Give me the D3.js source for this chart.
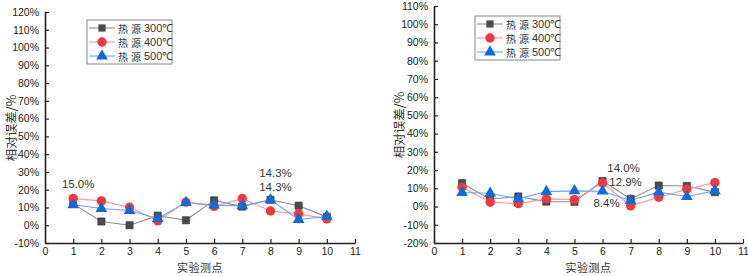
<!DOCTYPE html>
<html>
<head>
<meta charset="utf-8">
<script src="https://cdn.jsdelivr.net/npm/d3@7"></script>
<style>
  body { margin: 0; background: #fff; }
  svg { display: block; font-family: "Liberation Sans", Arial, sans-serif; }
</style>
</head>
<body>
<svg id="chart" width="748" height="276"></svg>
<script>
// measurement points
var points = [1, 2, 3, 4, 5, 6, 7, 8, 9, 10];
var seriesNames = ["热源300℃", "热源400℃", "热源500℃"];

// left panel, relative error %
var leftS300 = [12, 2.1, 0, 5.4, 2.8, 14, 10.5, 14.3, 11, 4.7];
var leftS400 = [15, 13.7, 10.1, 2.5, 13, 10.6, 15, 8, 6.4, 3.6];
var leftS500 = [11.5, 9.4, 8.3, 3.8, 12.8, 11.3, 10.9, 14.3, 3.2, 5];
var leftYTicks = [-10, 0, 10, 20, 30, 40, 50, 60, 70, 80, 90, 100, 110, 120];
var leftNotes = [
  { x: 1, y: 15, text: "15.0%", dx: 5, dy: -11 },
  { x: 8, y: 14.3, text: "14.3%", dx: 5, dy: -23 },
  { x: 8, y: 14.3, text: "14.3%", dx: 5, dy: -9 }
];

// right panel
var rightS300 = [12.8, 4, 5.5, 2.7, 2.6, 14.0, 4.2, 11.5, 11.3, 7.9];
var rightS400 = [10.6, 2.4, 1.6, 4.2, 3.8, 12.9, 0.4, 5.1, 9.5, 13.1];
var rightS500 = [7.7, 7.3, 4.2, 8.2, 8.6, 8.4, 3.3, 7.9, 5.5, 8.6];
var rightYTicks = [-20, -10, 0, 10, 20, 30, 40, 50, 60, 70, 80, 90, 100, 110];
var rightNotes = [
  { x: 6, y: 14.0, text: "14.0%", dx: 21, dy: -9 },
  { x: 6, y: 12.9, text: "12.9%", dx: 23, dy: 3 },
  { x: 6, y: 8.4, text: "8.4%", dx: 4, dy: 16 }
];

var xTicks = [0, 1, 2, 3, 4, 5, 6, 7, 8, 9, 10, 11];

var styles = [
  { line: "#8c8c8c", fill: "#4a4a4a", shape: d3.symbolSquare, size: 52 },
  { line: "#f59a9a", fill: "#f0393f", shape: d3.symbolCircle, size: 70 },
  { line: "#6ea3ea", fill: "#1469d8", shape: d3.symbolTriangle, size: 60 }
];

var svg = d3.select("#chart");

function drawPanel(cfg) {
  var g = svg.append("g");

  var x = d3.scaleLinear().domain([0, 11]).range([cfg.left, cfg.right]);
  var y = d3.scaleLinear().domain([cfg.yTicks[0], cfg.yTicks[cfg.yTicks.length - 1]])
      .range([cfg.bottom, cfg.top]);

  // x axis
  var xa = g.append("g")
      .attr("transform", "translate(0," + cfg.bottom + ")")
      .call(d3.axisBottom(x).tickValues(xTicks).tickSize(-4).tickPadding(5).tickSizeOuter(0));
  // y axis
  var ya = g.append("g")
      .attr("transform", "translate(" + cfg.left + ",0)")
      .call(d3.axisLeft(y).tickValues(cfg.yTicks).tickSize(-4).tickPadding(6).tickSizeOuter(0)
        .tickFormat(function(d) { return d + "%"; }));

  [xa, ya].forEach(function(a) {
    a.select(".domain").attr("stroke", "#222").attr("stroke-width", 1.6);
    a.selectAll(".tick line").attr("stroke", "#222").attr("stroke-width", 1.2);
    a.selectAll(".tick text").attr("fill", "#222").attr("font-size", "10.5px");
  });

  var line = d3.line()
      .x(function(d, i) { return x(points[i]); })
      .y(function(d) { return y(d); });

  cfg.series.forEach(function(vals, k) {
    g.append("path")
        .datum(vals)
        .attr("d", line)
        .attr("fill", "none")
        .attr("stroke", styles[k].line)
        .attr("stroke-width", 1.1);
  });

  cfg.series.forEach(function(vals, k) {
    g.selectAll(".m" + k)
      .data(vals)
      .enter()
      .append("path")
        .attr("class", "m" + k)
        .attr("transform", function(d, i) { return "translate(" + x(points[i]) + "," + y(d) + ")"; })
        .attr("d", d3.symbol().type(styles[k].shape).size(styles[k].size))
        .attr("fill", styles[k].fill)
        .attr("stroke", k === 0 ? "#333" : "none")
        .attr("stroke-width", 0.6);
  });

  // value notes
  cfg.notes.forEach(function(n) {
    g.append("text")
        .attr("x", x(n.x) + n.dx)
        .attr("y", y(n.y) + n.dy)
        .attr("text-anchor", "middle")
        .attr("font-size", "11.5px")
        .attr("fill", "#333")
        .text(n.text);
  });

  // axis titles
  g.append("text")
      .attr("x", (cfg.left + cfg.right) / 2)
      .attr("y", cfg.bottom + 29)
      .attr("text-anchor", "middle")
      .attr("font-size", "11px")
      .attr("letter-spacing", "0.5px")
      .attr("font-family", "Noto Sans CJK SC")
      .attr("fill", "#333")
      .text("实验测点");

  g.append("text")
      .attr("transform", "translate(" + cfg.yLabelX + "," + cfg.yLabelY + ") rotate(-90)")
      .attr("text-anchor", "middle")
      .attr("dominant-baseline", "central")
      .attr("font-size", "12.5px")
      .attr("font-family", "Noto Sans CJK SC")
      .attr("fill", "#333")
      .text("相对误差/%");

  // legend
  var lg = g.append("g").attr("transform", "translate(" + cfg.legX + "," + cfg.legY + ")");
  lg.append("rect")
      .attr("width", cfg.legW).attr("height", 44)
      .attr("fill", "#fff").attr("stroke", "#888").attr("stroke-width", 1);
  seriesNames.forEach(function(name, k) {
    var row = lg.append("g").attr("transform", "translate(0," + (8 + k * 14) + ")");
    row.append("line")
        .attr("x1", 2).attr("x2", 28).attr("y1", 0).attr("y2", 0)
        .attr("stroke", styles[k].line).attr("stroke-width", 1.1);
    row.append("path")
        .attr("transform", "translate(15,0)")
        .attr("d", d3.symbol().type(styles[k].shape).size(styles[k].size))
        .attr("fill", styles[k].fill);
    // label: "热 源" spaced, then the temperature
    row.append("text")
        .attr("x", 31).attr("y", 0)
        .attr("dominant-baseline", "central")
        .attr("font-size", "10px")
        .attr("letter-spacing", "3px")
        .attr("font-family", "Noto Sans CJK SC")
        .attr("fill", "#333")
        .text(name.slice(0, 2));
    row.append("text")
        .attr("x", 57).attr("y", 0)
        .attr("dominant-baseline", "central")
        .attr("font-size", "11px")
        .attr("fill", "#333")
        .text(name.slice(2));
  });
}

drawPanel({
  left: 45, right: 355, top: 12, bottom: 243,
  yTicks: leftYTicks,
  series: [leftS300, leftS400, leftS500],
  notes: leftNotes,
  yLabelX: 10, yLabelY: 128,
  legX: 87, legY: 20, legW: 85
});

drawPanel({
  left: 434, right: 743, top: 6, bottom: 243,
  yTicks: rightYTicks,
  series: [rightS300, rightS400, rightS500],
  notes: rightNotes,
  yLabelX: 398, yLabelY: 125,
  legX: 475, legY: 16, legW: 85
});
</script>
</body>
</html>
